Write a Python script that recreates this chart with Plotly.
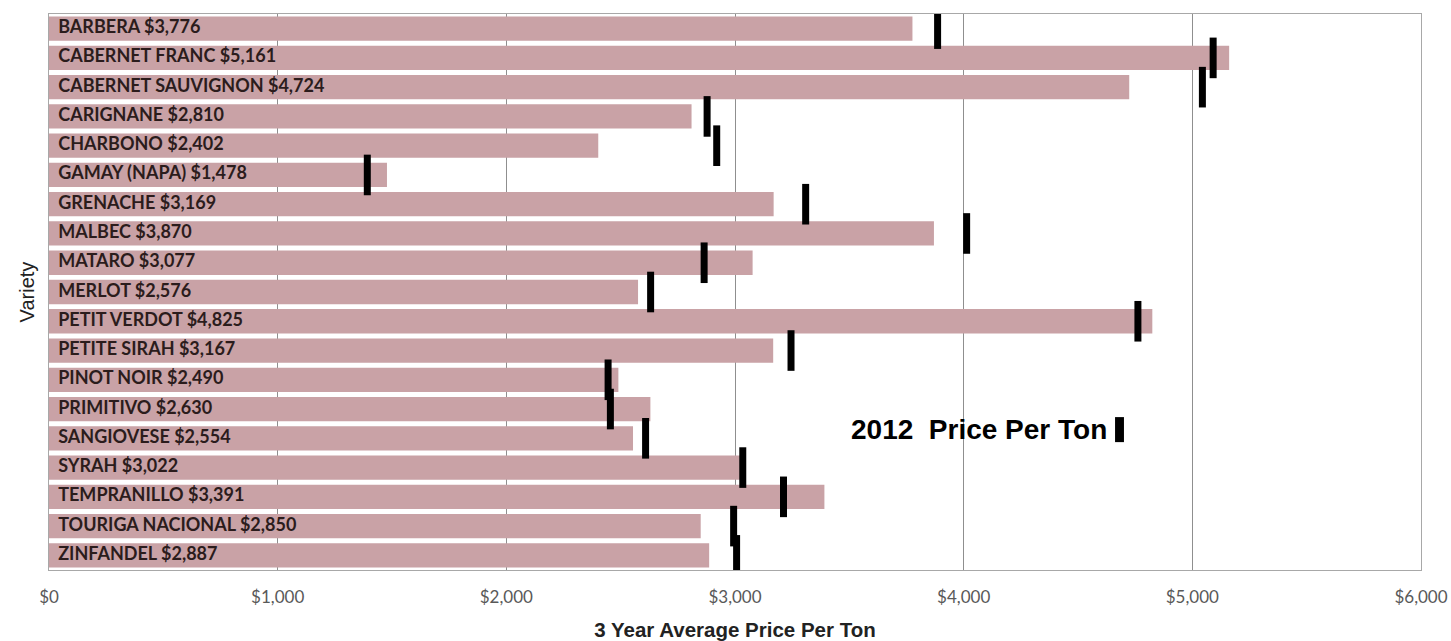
import plotly.graph_objects as go

varieties = ["BARBERA", "CABERNET FRANC", "CABERNET SAUVIGNON", "CARIGNANE", "CHARBONO",
             "GAMAY (NAPA)", "GRENACHE", "MALBEC", "MATARO", "MERLOT", "PETIT VERDOT",
             "PETITE SIRAH", "PINOT NOIR", "PRIMITIVO", "SANGIOVESE", "SYRAH",
             "TEMPRANILLO", "TOURIGA NACIONAL", "ZINFANDEL"]
avg_3yr = [3776, 5161, 4724, 2810, 2402, 1478, 3169, 3870, 3077, 2576, 4825,
           3167, 2490, 2630, 2554, 3022, 3391, 2850, 2887]
price_2012 = [3886, 5091, 5044, 2878, 2920, 1392, 3309, 4013, 2865, 2631, 4762,
              3245, 2445, 2455, 2609, 3034, 3212, 2994, 3007]
x_ticks = [0, 1000, 2000, 3000, 4000, 5000, 6000]
x_tick_labels = ["$0", "$1,000", "$2,000", "$3,000", "$4,000", "$5,000", "$6,000"]

labels = [f"  <b>{v} ${p:,}</b>" for v, p in zip(varieties, avg_3yr)]

fig = go.Figure()
fig.add_trace(go.Bar(
    y=varieties, x=avg_3yr, orientation="h",
    marker=dict(color="#c9a2a6", line=dict(width=0)),
    showlegend=False, hoverinfo="x+y",
))
fig.add_trace(go.Scatter(
    y=varieties, x=[0] * len(varieties), mode="text", text=labels,
    textposition="middle right",
    textfont=dict(family="Lato, Liberation Sans Narrow, Arial", size=18, color="#2b1c1c"),
    showlegend=False, hoverinfo="skip",
))
fig.add_trace(go.Scatter(
    y=varieties, x=price_2012, mode="markers",
    marker=dict(symbol="line-ns", size=29, color="black", line=dict(width=7, color="black")),
    showlegend=False,
))

# legend text with its glyph on the right
fig.add_annotation(
    x=0.7725, y=0.2527, xref="paper", yref="paper", xanchor="right", yanchor="middle",
    text="<b>2012  Price Per Ton</b>", showarrow=False,
    font=dict(family="Liberation Sans, Arial", size=28, color="black"),
)
fig.add_shape(type="rect", xref="paper", yref="paper",
              x0=0.777, x1=0.7835, y0=0.230, y1=0.275,
              fillcolor="black", line=dict(width=0))

fig.update_layout(
    width=1451, height=641,
    margin=dict(l=49, r=30, t=14, b=71),
    plot_bgcolor="white", paper_bgcolor="white",
    bargap=0.17,
    xaxis=dict(
        range=[0, 6000], tickvals=x_ticks, ticktext=x_tick_labels,
        showgrid=True, gridcolor="#8f8f8f", gridwidth=1,
        showline=True, linecolor="#a8a8a8", linewidth=1, mirror=True,
        ticks="", layer="above traces", zeroline=False, automargin=False,
        ticklabelstandoff=12,
        tickfont=dict(family="Lato, Liberation Sans, Arial", size=17, color="#595959"),
        title=dict(text="<b>3 Year Average Price Per Ton</b>", standoff=18,
                   font=dict(family="Liberation Sans, Arial", size=20.5, color="#222222")),
    ),
    yaxis=dict(
        autorange=False, range=[18.5, -0.5], showticklabels=False, ticks="",
        showline=True, linecolor="#a8a8a8", linewidth=1, mirror=True,
        showgrid=False, automargin=False,
        title=dict(text="Variety", standoff=8,
                   font=dict(family="Liberation Sans, Arial", size=20, color="#222222")),
    ),
)

fig.write_html("out.html")
